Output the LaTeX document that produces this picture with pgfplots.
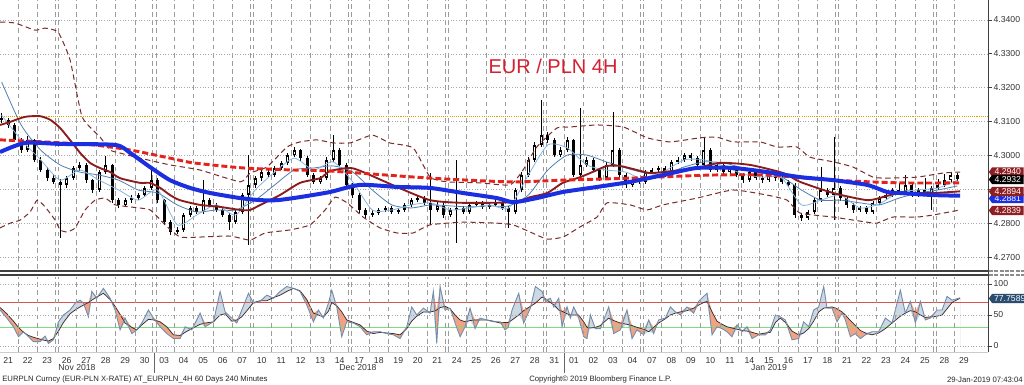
\documentclass[border=0pt]{standalone}
\usepackage{fontspec}
\setmainfont{Liberation Sans}
\usepackage{pgfplots}
\pgfplotsset{compat=1.18}
\usepackage{pgfplotstable}
\usetikzlibrary{shapes.symbols}

\definecolor{gridv}{HTML}{9C9C9C}
\definecolor{gridh}{HTML}{A8A8A8}
\definecolor{bbblue}{HTML}{1B2FE0}
\definecolor{bbred}{HTML}{E4231D}
\definecolor{maroonc}{HTML}{8C1C1C}
\definecolor{bandc}{HTML}{7A2A2A}
\definecolor{lineA}{HTML}{86B6E2}
\definecolor{lineB}{HTML}{4F80B0}
\definecolor{yell}{HTML}{D9A400}
\definecolor{Kcol}{HTML}{6E8CAB}
\definecolor{Dcol}{HTML}{3C2A2A}
\definecolor{fillK}{HTML}{CCD8E4}
\definecolor{fillD}{HTML}{F2A283}
\definecolor{lowred}{HTML}{D9534F}
\definecolor{lowgreen}{HTML}{7DDC7D}
\definecolor{titred}{HTML}{D42030}
\definecolor{boxred}{HTML}{8E1E22}
\definecolor{boxslate}{HTML}{2A4C70}
\definecolor{sepc}{HTML}{404040}

\newcommand\tf{\fontsize{6.5}{7.5}\selectfont}
\newcommand\ff{\fontsize{5.8}{7}\selectfont}

\pgfplotstableread{
k o h l c
0 4.3110 4.3125 4.3095 4.3105
1 4.3105 4.3112 4.3082 4.3090
2 4.3090 4.3095 4.3040 4.3046
3 4.3046 4.3052 4.3008 4.3016
4 4.3016 4.3058 4.3010 4.3046
5 4.3046 4.3050 4.2980 4.2987
6 4.2987 4.2995 4.2950 4.2957
7 4.2957 4.2965 4.2925 4.2933
8 4.2933 4.2945 4.2915 4.2922
9 4.2922 4.2930 4.2756 4.2913
10 4.2913 4.2940 4.2905 4.2933
11 4.2933 4.2970 4.2928 4.2963
12 4.2963 4.2980 4.2955 4.2972
13 4.2972 4.2978 4.2920 4.2927
14 4.2927 4.2932 4.2890 4.2898
15 4.2898 4.2958 4.2893 4.2951
16 4.2951 4.2998 4.2945 4.2972
17 4.2972 4.2975 4.2860 4.2868
18 4.2868 4.2875 4.2845 4.2854
19 4.2854 4.2875 4.2848 4.2868
20 4.2868 4.2882 4.2860 4.2874
21 4.2874 4.2890 4.2868 4.2883
22 4.2883 4.2910 4.2878 4.2904
23 4.2904 4.2957 4.2898 4.2927
24 4.2927 4.2932 4.2860 4.2868
25 4.2868 4.2872 4.2795 4.2803
26 4.2803 4.2808 4.2765 4.2774
27 4.2774 4.2788 4.2768 4.2780
28 4.2780 4.2830 4.2775 4.2824
29 4.2824 4.2852 4.2818 4.2845
30 4.2845 4.2850 4.2826 4.2833
31 4.2833 4.2927 4.2828 4.2868
32 4.2868 4.2875 4.2848 4.2854
33 4.2854 4.2860 4.2832 4.2839
34 4.2839 4.2845 4.2818 4.2824
35 4.2824 4.2830 4.2780 4.2803
36 4.2803 4.2840 4.2798 4.2833
37 4.2833 4.2890 4.2828 4.2883
38 4.2883 4.3001 4.2735 4.2913
39 4.2913 4.2940 4.2905 4.2933
40 4.2933 4.2958 4.2926 4.2951
41 4.2951 4.2960 4.2936 4.2942
42 4.2942 4.2970 4.2937 4.2963
43 4.2963 4.2985 4.2957 4.2978
44 4.2978 4.3008 4.2972 4.3001
45 4.3001 4.3025 4.2995 4.3016
46 4.3016 4.3020 4.2985 4.2992
47 4.2992 4.2998 4.2935 4.2942
48 4.2942 4.2948 4.2915 4.2922
49 4.2922 4.2940 4.2916 4.2933
50 4.2933 4.2995 4.2928 4.2987
51 4.2987 4.3060 4.2980 4.3016
52 4.3016 4.3022 4.2965 4.2972
53 4.2972 4.2978 4.2905 4.2913
54 4.2913 4.2920 4.2875 4.2883
55 4.2883 4.2888 4.2830 4.2839
56 4.2839 4.2845 4.2815 4.2824
57 4.2824 4.2838 4.2818 4.2830
58 4.2830 4.2845 4.2825 4.2839
59 4.2839 4.2852 4.2833 4.2845
60 4.2845 4.2850 4.2826 4.2833
61 4.2833 4.2846 4.2828 4.2839
62 4.2839 4.2860 4.2833 4.2854
63 4.2854 4.2875 4.2848 4.2868
64 4.2868 4.2882 4.2862 4.2874
65 4.2874 4.2880 4.2853 4.2860
66 4.2860 4.2948 4.2795 4.2839
67 4.2839 4.2862 4.2833 4.2854
68 4.2854 4.2860 4.2815 4.2824
69 4.2824 4.2845 4.2818 4.2839
70 4.2839 4.2987 4.2741 4.2845
71 4.2845 4.2850 4.2826 4.2833
72 4.2833 4.2860 4.2828 4.2854
73 4.2854 4.2866 4.2848 4.2860
74 4.2860 4.2865 4.2842 4.2848
75 4.2848 4.2860 4.2842 4.2854
76 4.2854 4.2868 4.2848 4.2862
77 4.2862 4.2868 4.2838 4.2845
78 4.2845 4.2850 4.2786 4.2833
79 4.2833 4.2905 4.2828 4.2898
80 4.2898 4.2950 4.2892 4.2942
81 4.2942 4.2995 4.2936 4.2987
82 4.2987 4.3040 4.2980 4.3031
83 4.3031 4.3164 4.3025 4.3060
84 4.3060 4.3068 4.3038 4.3046
85 4.3046 4.3052 4.2995 4.3001
86 4.3001 4.3024 4.2995 4.3016
87 4.3016 4.3054 4.3010 4.3046
88 4.3046 4.3050 4.2935 4.2942
89 4.2942 4.3140 4.2936 4.2972
90 4.2972 4.2995 4.2965 4.2987
91 4.2987 4.2992 4.2950 4.2957
92 4.2957 4.2962 4.2925 4.2933
93 4.2933 4.2980 4.2927 4.2972
94 4.2972 4.3128 4.2966 4.3016
95 4.3016 4.3022 4.2935 4.2942
96 4.2942 4.2948 4.2905 4.2913
97 4.2913 4.2935 4.2906 4.2927
98 4.2927 4.2933 4.2915 4.2922
99 4.2922 4.2958 4.2916 4.2951
100 4.2951 4.2964 4.2945 4.2957
101 4.2957 4.2970 4.2950 4.2963
102 4.2963 4.2968 4.2936 4.2942
103 4.2942 4.2988 4.2936 4.2981
104 4.2981 4.2994 4.2975 4.2987
105 4.2987 4.3008 4.2980 4.3001
106 4.3001 4.3006 4.2985 4.2992
107 4.2992 4.2998 4.2965 4.2972
108 4.2972 4.3054 4.2966 4.3016
109 4.3016 4.3022 4.2950 4.2957
110 4.2957 4.2980 4.2950 4.2972
111 4.2972 4.2978 4.2945 4.2951
112 4.2951 4.2970 4.2945 4.2963
113 4.2963 4.2968 4.2936 4.2942
114 4.2942 4.2948 4.2920 4.2927
115 4.2927 4.2958 4.2921 4.2951
116 4.2951 4.2956 4.2926 4.2933
117 4.2933 4.2938 4.2920 4.2927
118 4.2927 4.2948 4.2921 4.2942
119 4.2942 4.2947 4.2926 4.2933
120 4.2933 4.2938 4.2915 4.2922
121 4.2922 4.2928 4.2906 4.2913
122 4.2913 4.2918 4.2815 4.2824
123 4.2824 4.2830 4.2806 4.2815
124 4.2815 4.2840 4.2809 4.2833
125 4.2833 4.2875 4.2828 4.2868
126 4.2868 4.2966 4.2862 4.2898
127 4.2898 4.2904 4.2876 4.2883
128 4.2883 4.3054 4.2809 4.2904
129 4.2904 4.2910 4.2866 4.2874
130 4.2874 4.2880 4.2846 4.2854
131 4.2854 4.2860 4.2831 4.2839
132 4.2839 4.2852 4.2833 4.2845
133 4.2845 4.2850 4.2826 4.2833
134 4.2833 4.2866 4.2828 4.2860
135 4.2860 4.2880 4.2854 4.2874
136 4.2874 4.2890 4.2868 4.2883
137 4.2883 4.2905 4.2877 4.2898
138 4.2898 4.2918 4.2885 4.2892
139 4.2892 4.2942 4.2886 4.2913
140 4.2913 4.2918 4.2876 4.2883
141 4.2883 4.2905 4.2877 4.2898
142 4.2898 4.2932 4.2882 4.2889
143 4.2889 4.2910 4.2839 4.2904
144 4.2904 4.2930 4.2897 4.2913
145 4.2913 4.2945 4.2906 4.2927
146 4.2927 4.2950 4.2920 4.2942
147 4.2942 4.2948 4.2926 4.2932
}\candles

\pgfplotstableread{
k K D
-0.23 58 62
0.80 45 52
1.82 31 40
2.59 15 30
3.36 23 22
4.13 15 17
4.90 7 14
5.92 7 11
6.69 16 9
7.20 4 8
7.97 10 12
8.74 39 24
9.51 50 38
10.53 58 52
11.30 69 58
12.07 74 63
12.59 69 66
13.35 47 70
13.87 88 74
14.63 77 79
15.66 93 85
16.68 77 75
17.45 58 64
18.22 26 51
18.99 45 37
20.02 20 30
20.79 26 26
21.56 37 34
22.58 58 43
23.35 45 42
24.37 31 39
25.40 20 31
26.42 12 18
27.45 12 17
28.22 31 22
29.24 26 28
30.53 53 35
31.29 31 37
32.58 39 39
33.60 88 50
34.37 55 52
35.39 45 40
36.16 37 42
36.93 58 47
37.96 85 60
38.73 69 70
39.75 72 73
40.78 82 73
41.80 77 78
42.83 88 82
43.86 96 88
44.88 93 93
45.90 88 89
46.93 66 75
47.95 39 53
48.72 58 50
49.49 45 47
50.26 69 56
50.77 90 70
51.54 63 65
52.31 15 55
53.08 39 42
54.10 37 38
55.13 31 34
56.16 18 24
57.18 23 20
58.21 23 22
59.23 20 21
60.26 18 20
61.28 12 18
62.31 31 28
63.07 63 40
63.84 50 48
64.87 61 55
65.89 53 55
66.40 88 56
66.92 4 58
67.43 96 62
68.20 58 64
68.97 61 60
69.74 37 50
70.51 15 42
71.28 31 39
72.04 61 41
72.81 28 42
73.58 45 42
74.61 42 42
75.63 39 40
76.66 39 37
77.43 26 38
77.90 30 38
78.50 58 42
79.53 85 50
80.29 37 57
81.32 61 64
82.09 96 69
83.11 88 79
83.63 72 76
84.39 77 70
84.91 63 67
85.68 77 58
86.19 31 56
86.96 63 52
87.47 45 50
87.98 63 50
88.75 45 50
89.52 15 39
90.03 12 30
90.55 50 29
91.31 28 30
92.08 28 33
92.60 42 38
93.37 63 45
94.13 20 41
95.16 26 37
96.18 58 35
96.95 12 33
97.72 26 30
98.75 18 27
99.52 42 23
100.28 20 30
101.05 42 37
102.08 45 44
102.85 63 50
103.62 55 53
104.39 50 55
105.41 63 57
106.44 53 61
107.20 72 66
107.97 80 70
108.49 85 72
109.26 18 55
110.02 31 40
110.79 28 35
111.56 23 31
112.33 15 29
113.10 34 27
113.87 23 25
114.64 31 24
115.41 12 22
116.43 18 19
117.46 18 21
118.23 26 22
119.00 50 38
119.76 47 45
120.53 42 38
121.56 10 24
122.58 12 18
123.35 39 21
124.12 31 28
124.89 58 40
125.66 63 55
126.43 96 61
126.94 61 62
127.71 61 63
128.48 39 60
129.25 53 55
129.76 42 50
130.53 15 41
131.30 20 33
132.07 12 25
132.84 18 21
133.86 23 18
134.89 23 21
135.91 45 28
136.94 37 37
138.22 90 48
138.99 53 53
139.76 72 57
140.53 37 55
141.30 72 50
142.06 42 46
142.83 45 47
143.86 58 48
144.63 58 50
145.40 80 60
146.16 74 70
147.19 77 76
147.40 77.76 76.5
}\osc

\pgfplotsset{
  bbgrid/.style={
    xmin=-0.25, xmax=151.7,
    scale only axis, width=741pt,
    axis line style={draw=none},
    xtick={1,4,...,148},
    major x tick style={draw=none},
    minor xtick={2.5,5.5,8.25,8.75,11.5,14.5,17.5,20.5,23.25,23.75,26.5,29.5,32.5,35.5,38.25,38.75,41.5,44.5,47.5,50.5,53.25,53.75,56.5,59.5,62.5,65.5,68.25,68.75,71.5,74.5,77.5,80.5,83.25,83.75,86.5,89.5,92.5,95.5,98.25,98.75,101.5,104.5,107.5,110.5,113.25,113.75,116.5,119.5,122.5,125.5,128.25,128.75,131.5,134.5,137.5,140.5,143.25,143.75,146.5},
    minor tick length=0pt,
    xminorgrids=true,
    minor x grid style={gridv, line width=0.5pt, dash pattern=on 3.5pt off 2.6pt},
    ymajorgrids=true,
    major y grid style={gridh, line width=0.5pt, dash pattern=on 0.6pt off 1.4pt},
    ytick pos=right, yticklabel pos=right,
    tick align=outside, major tick length=3pt,
    major y tick style={black!75, line width=0.6pt},
    yticklabel style={font=\tf, text=black!80, inner sep=1pt},
    xticklabel style={font=\tf, text=black!80, inner sep=1pt},
    /pgf/number format/assume math mode=true,
  }
}

\begin{document}
\begin{tikzpicture}
\fill[white] (0,0) rectangle (768pt,288.75pt);

% ---------------- main panel ----------------
\begin{axis}[bbgrid,
  at={(0pt,288.75pt)}, anchor=north west, height=201.75pt,
  ymin=4.26646, ymax=4.34591,
  xticklabel={\phantom{0}},
  ytick={4.27,4.28,4.29,4.30,4.31,4.32,4.33,4.34},
  yticklabels={4.2700,4.2800,,4.3000,4.3100,4.3200,4.3300,4.3400},
  error bars/error mark=none,
]
\addplot[yell, line width=0.6pt, dash pattern=on 0.8pt off 0.8pt] coordinates {(-1,4.3115) (153,4.3115)};

% candles: wicks, bodies, hollow centres of rising candles
\addplot[draw=none, mark=none,
  error bars/.cd, y dir=both, y explicit, error bar style={draw=black, line width=0.5pt, solid}]
  table[x=k, y expr={(\thisrow{h}+\thisrow{l})/2}, y error expr={(\thisrow{h}-\thisrow{l})/2}] {\candles};
\addplot[draw=none, mark=none,
  error bars/.cd, y dir=both, y explicit, error bar style={draw=black, line width=2.3pt, solid}]
  table[x=k, y expr={(\thisrow{o}+\thisrow{c})/2}, y error expr={abs(\thisrow{c}-\thisrow{o})/2+0.00006}] {\candles};
\addplot[draw=none, mark=none,
  error bars/.cd, y dir=both, y explicit, error bar style={draw=white, line width=0.9pt, solid}]
  table[x=k, y expr={(\thisrow{o}+\thisrow{c})/2}, y error expr={max(\thisrow{c}-\thisrow{o}-0.0010,0)/2}] {\candles};

\addplot[lineB, line width=0.6pt, smooth, tension=0.4] coordinates {
(0,4.3217) (3,4.3090) (6,4.3016) (9,4.2972) (12,4.2951) (15,4.2942) (18,4.2927) (21,4.2898) (24,4.2889) (27,4.2854)
(30,4.2833) (33,4.2839) (36,4.2839) (39,4.2868) (42,4.2913) (45,4.2957) (48,4.2963) (51,4.2969) (54,4.2951) (57,4.2898)
(60,4.2854) (63,4.2845) (66,4.2854) (69,4.2851) (72,4.2848) (75,4.2851) (78,4.2851) (81,4.2883) (84,4.2957) (87,4.3001)
(90,4.3001) (93,4.2981) (96,4.2963) (99,4.2948) (102,4.2945) (105,4.2966) (108,4.2981) (111,4.2978) (114,4.2963) (117,4.2948)
(120,4.2936) (123,4.2898) (126,4.2868) (129,4.2868) (132,4.2860) (135,4.2854) (138,4.2874) (141,4.2889) (144,4.2898) (147,4.2910)};
\addplot[lineA, line width=0.6pt, smooth, tension=0.4] coordinates {
(0,4.3119) (3,4.3046) (6,4.2987) (9,4.2927) (12,4.2957) (15,4.2927) (18,4.2898) (21,4.2868) (24,4.2898) (27,4.2795)
(30,4.2824) (33,4.2854) (36,4.2824) (39,4.2898) (42,4.2951) (45,4.2992) (48,4.2957) (51,4.2981) (54,4.2922) (57,4.2839)
(60,4.2839) (63,4.2854) (66,4.2860) (69,4.2839) (72,4.2845) (75,4.2854) (78,4.2845) (81,4.2942) (84,4.3031) (87,4.3022)
(90,4.2972) (93,4.2957) (96,4.2951) (99,4.2927) (102,4.2954) (105,4.2987) (108,4.2987) (111,4.2969) (114,4.2945) (117,4.2936)
(120,4.2933) (123,4.2854) (126,4.2868) (129,4.2883) (132,4.2845) (135,4.2857) (138,4.2892) (141,4.2898) (144,4.2904) (147,4.2927)};

\addplot[bandc, line width=0.75pt, dash pattern=on 4pt off 2.6pt, smooth, tension=0.3] coordinates {
(-0.25,4.3394) (2.08,4.3391) (5.15,4.3370) (6.69,4.3376) (8.69,4.3364) (10.53,4.3282) (12.38,4.3114) (15.15,4.3054)
(16.68,4.3016) (18.22,4.3007) (21.3,4.2992) (25.9,4.2972) (30.5,4.2957) (36.7,4.2922) (38.2,4.2948) (40.8,4.2966)
(43.9,4.3025) (45.9,4.3040) (48.5,4.3046) (51.0,4.3037) (53.6,4.3037) (57.0,4.3060) (59.7,4.3037) (63.3,4.3022)
(65.9,4.2936) (68.5,4.2922) (73.6,4.2919) (78.2,4.2913) (80.2,4.2957) (82.3,4.3025) (85.4,4.3081) (87.4,4.3084)
(91.6,4.3090) (95.6,4.3084) (99.3,4.3052) (102.8,4.3040) (107.4,4.3052) (110.0,4.3054) (112.5,4.3040) (116.6,4.3040)
(119.3,4.3025) (122.3,4.3025) (124.3,4.2995) (127.9,4.2981) (130.9,4.2966) (134.0,4.2936) (136.2,4.2933) (140.8,4.2936)
(144.8,4.2948) (147.4,4.2951)};
\addplot[bandc, line width=0.75pt, dash pattern=on 4pt off 2.6pt, smooth, tension=0.3] coordinates {
(-0.25,4.2786) (1.31,4.2800) (2.85,4.2809) (4.38,4.2833) (5.46,4.2868) (6.69,4.2848) (8.23,4.2809) (9.00,4.2780)
(10.07,4.2774) (11.30,4.2786) (12.84,4.2839) (14.38,4.2868) (15.92,4.2874) (17.45,4.2854) (19.76,4.2848) (22.84,4.2839)
(25.14,4.2795) (27.45,4.2759) (30.52,4.2759) (35.14,4.2762) (38.21,4.2750) (40.52,4.2771) (44.36,4.2780) (47.44,4.2795)
(49.75,4.2839) (51.28,4.2877) (53.13,4.2860) (55.59,4.2818) (58.20,4.2786) (60.82,4.2771) (63.28,4.2771) (65.89,4.2795)
(70.97,4.2803) (76.19,4.2800) (78.65,4.2795) (81.27,4.2774) (83.88,4.2753) (86.34,4.2759) (88.96,4.2789) (91.57,4.2818)
(93.11,4.2860) (96.64,4.2854) (99.26,4.2839) (101.72,4.2854) (106.95,4.2874) (112.48,4.2898) (117.71,4.2883) (120.79,4.2868)
(122.78,4.2830) (127.86,4.2818) (133.09,4.2803) (134.63,4.2800) (137.09,4.2818) (140.78,4.2818) (143.24,4.2824) (147.39,4.2839)};

\addplot[maroonc, line width=1.4pt, smooth, tension=0.4] coordinates {
(-0.23,4.3090) (1.3,4.3099) (3.6,4.3114) (5.9,4.3116) (7.5,4.3105) (9.0,4.3081) (10.5,4.3046) (12.1,4.3007) (13.6,4.2978)
(15.1,4.2963) (16.7,4.2951) (18.2,4.2933) (21.3,4.2919) (22.8,4.2919) (24.4,4.2904) (25.9,4.2883) (27.4,4.2868)
(30.5,4.2854) (33.6,4.2848) (36.7,4.2839) (38.2,4.2839) (39.8,4.2854) (42.8,4.2883) (45.9,4.2919) (49.0,4.2933)
(50.5,4.2954) (53.6,4.2963) (55.6,4.2951) (60.8,4.2907) (65.9,4.2868) (71.0,4.2860) (78.7,4.2862) (81.3,4.2877)
(83.9,4.2889) (86.3,4.2919) (89.0,4.2936) (91.6,4.2957) (93.1,4.2969) (95.1,4.2969) (97.7,4.2957) (99.7,4.2948)
(101.7,4.2951) (106.9,4.2963) (110.5,4.2978) (115.1,4.2972) (120.2,4.2948) (122.8,4.2922) (127.9,4.2889) (133.1,4.2868)
(135.5,4.2877) (138.2,4.2889) (143.2,4.2889) (147.4,4.2894)};

\addplot[bbred, line width=2.2pt, dash pattern=on 4.5pt off 2.2pt, smooth, tension=0.4] coordinates {
(-0.25,4.3046) (6.5,4.3040) (14.1,4.3031) (19.8,4.3016) (25.9,4.2992) (29.5,4.2978) (37.2,4.2963) (44.9,4.2957)
(50.5,4.2954) (65.9,4.2933) (78.2,4.2922) (86.3,4.2927) (96.7,4.2933) (109,4.2942) (117.7,4.2942) (127.9,4.2927)
(138.2,4.2919) (147.4,4.2919)};

\addplot[bbblue, line width=3pt, smooth, tension=0.4] coordinates {
(-0.25,4.3010) (3.6,4.3037) (9.0,4.3034) (17.5,4.3031) (19.8,4.3007) (22.8,4.2966) (25.9,4.2927) (29.0,4.2904)
(32.1,4.2889) (36.7,4.2874) (39.8,4.2868) (42.4,4.2868) (45.9,4.2877) (50.5,4.2892) (55.1,4.2913) (60.8,4.2907)
(65.9,4.2904) (71.0,4.2889) (76.2,4.2874) (78.7,4.2862) (82.3,4.2874) (86.3,4.2892) (91.6,4.2907) (96.7,4.2922)
(101.7,4.2942) (106.9,4.2963) (112.5,4.2963) (117.7,4.2951) (122.8,4.2936) (127.9,4.2927) (133.1,4.2913)
(136.2,4.2892) (138.2,4.2889) (143.2,4.2883) (147.4,4.2881)};
\end{axis}

% ---------------- lower panel ----------------
\begin{axis}[bbgrid,
  at={(0pt,81pt)}, anchor=north west, height=56.25pt,
  ymin=-9.7, ymax=111.3,
  axis on top,
  xticklabels={21,22,23,26,27,28,29,30,03,04,05,06,07,10,11,12,13,14,17,18,19,20,21,24,25,26,27,28,31,01,02,03,04,07,08,09,10,11,14,15,16,17,18,21,22,23,24,25,28,29},
  ytick={0,50,100}, yticklabels={0,50,100},
]
\addplot[draw=none, fill=fillD] table[x=k, y expr={max(\thisrow{K},\thisrow{D})}] {\osc} \closedcycle;
\addplot[draw=none, fill=fillK] table[x=k, y=K] {\osc} \closedcycle;
\addplot[draw=none, fill=white] table[x=k, y expr={min(\thisrow{K},\thisrow{D})}] {\osc} \closedcycle;
\addplot[lowred, line width=0.7pt] coordinates {(-1,70) (153,70)};
\addplot[lowgreen, line width=0.9pt] coordinates {(-1,30) (153,30)};
\addplot[Dcol, line width=0.55pt] table[x=k, y=D] {\osc};
\addplot[Kcol, line width=0.65pt] table[x=k, y=K] {\osc};
\end{axis}

% ---------------- decorations (pixel coordinates) ----------------
\begin{scope}[x=0.75pt, y=-0.75pt, yshift=288.75pt]
  \draw[sepc, line width=1.5pt] (0,271.3) -- (988,271.3);
  \draw[sepc, line width=1.5pt] (0,275.2) -- (988,275.2);
  \draw[black!45, line width=1.2pt, dash pattern=on 3pt off 1pt] (989,271.3) -- (1024,271.3);
  \draw[black!45, line width=1.2pt, dash pattern=on 3pt off 1pt] (989,275.2) -- (1024,275.2);
  \draw[black!20, line width=0.6pt] (0,352) -- (988,352);
  \draw[black!75, line width=0.75pt] (988,0) -- (988,352);
  \draw[black!60, line width=0.75pt] (154,353) -- (154,373);
  \draw[black!60, line width=0.75pt] (564,353) -- (564,373);
  \node[font=\tf, text=black!80] at (77,368) {Nov 2018};
  \node[font=\tf, text=black!80] at (358,368) {Dec 2018};
  \node[font=\tf, text=black!80] at (769,368) {Jan 2019};
  \node[font=\ff, text=black!85, anchor=west, inner sep=0pt] at (2,379.5) {EURPLN Curncy (EUR-PLN X-RATE) AT\_EURPLN\_4H 60 Days 240 Minutes};
  \node[font=\ff, text=black!85, anchor=west, inner sep=0pt] at (529,379.5) {Copyright\textcopyright{} 2019 Bloomberg Finance L.P.};
  \node[font=\ff, text=black!85, anchor=east, inner sep=0pt] at (1023,379.5) {29-Jan-2019 07:43:04};
  \node[font=\fontsize{15}{17}\selectfont, text=titred] at (553,66) {EUR / PLN 4H};
  \tikzset{lastbox/.style={signal, signal to=west, signal pointer angle=110, anchor=west, font=\tf, text=white,
      minimum height=7pt, inner sep=0.6pt, inner xsep=1.5pt, minimum width=26pt}}
  \node[lastbox, fill=boxred] at (988.5,172) {4.2940};
  \node[lastbox, fill=black] at (988.5,179.5) {4.2932};
  \node[lastbox, fill=bbblue] at (988.5,198.5) {4.2881};
  \node[lastbox, fill=boxred] at (988.5,191.5) {4.2894};
  \node[lastbox, fill=boxred] at (988.5,210.5) {4.2839};
  \node[lastbox, fill=boxslate] at (988.5,298.5) {77.7589};
\end{scope}
\pgfresetboundingbox
\path[use as bounding box] (0,0) rectangle (768pt,288.75pt);
\end{tikzpicture}
\end{document}
